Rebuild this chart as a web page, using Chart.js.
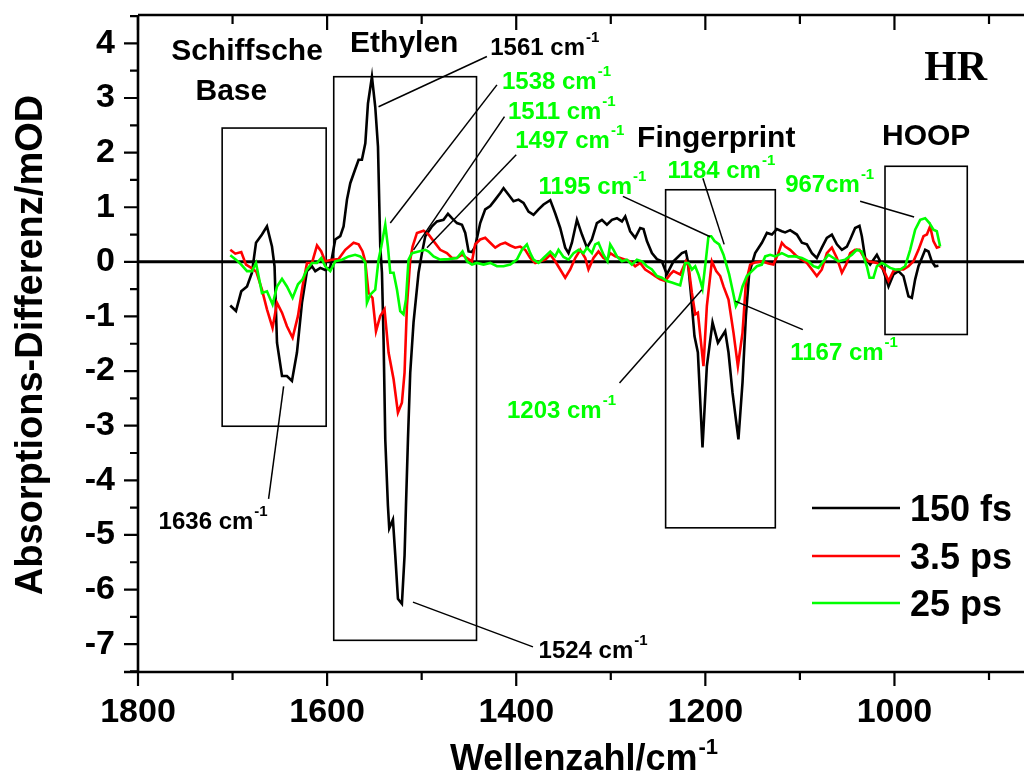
<!DOCTYPE html>
<html>
<head>
<meta charset="utf-8">
<script src="https://cdn.jsdelivr.net/npm/chart.js@4.4.0/dist/chart.umd.min.js"></script>
<style>
  html, body { margin: 0; padding: 0; background: #fff; overflow: hidden; }
  canvas { display: block; }
</style>
</head>
<body>
<canvas id="spektrum" width="1024" height="776"></canvas>
<script>
const wn150fs = [
  1702.4,1696.4,1690.8,1684.7,1679.5,1675.2,1668.9,1663.6,1658.3,1655.6,
  1653.0,1647.7,1642.5,1637.2,1631.9,1626.6,1621.3,1616.0,1612.5,1607.2,
  1602.0,1596.7,1591.4,1586.1,1582.6,1579.0,1575.5,1570.4,1566.7,1563.2,
  1559.6,1556.8,1552.6,1549.1,1546.2,1543.8,1542.0,1540.3,1538.5,1535.7,
  1534.3,1530.4,1527.9,1525.1,1520.9,1518.1,1516.6,1514.5,1512.1,1508.6,
  1503.3,1499.7,1496.2,1489.1,1483.8,1476.9,1472.2,1468.0,1462.7,1457.4,
  1453.9,1450.4,1446.8,1443.4,1438.1,1432.8,1427.5,1422.2,1416.9,1413.4,
  1408.1,1402.9,1397.6,1392.3,1387.0,1381.7,1376.4,1371.1,1364.0,1358.8,
  1353.5,1348.2,1344.7,1341.1,1335.8,1330.5,1325.2,1320.0,1314.7,1309.4,
  1304.1,1298.8,1293.5,1288.2,1284.7,1279.5,1274.2,1268.9,1265.4,1261.8,
  1256.5,1251.2,1246.0,1240.7,1233.7,1224.8,1220.6,1218.5,1215.0,1211.5,
  1207.9,1203.0,1198.4,1192.4,1186.7,1179.0,1175.5,1171.3,1165.0,1160.7,
  1157.1,1153.6,1147.3,1140.2,1134.9,1129.6,1124.4,1119.1,1115.6,1110.3,
  1103.2,1097.9,1092.6,1087.3,1082.1,1076.8,1071.5,1066.2,1060.9,1055.6,
  1050.3,1046.8,1041.6,1037.0,1034.5,1031.0,1025.7,1022.2,1018.6,1015.1,
  1009.8,1006.3,1001.1,995.8,990.5,985.2,981.6,978.1,974.6,971.0,
  967.5,964.0,960.5,957.0,953.5
];
const od150fs = [
  -0.80,-0.90,-0.54,-0.45,-0.20,0.35,0.50,0.65,0.28,-0.08,
  -1.48,-2.09,-2.09,-2.18,-1.66,-0.75,-0.17,-0.08,-0.17,-0.11,
  -0.15,-0.10,0.41,0.47,0.65,1.14,1.44,1.69,1.87,1.87,
  2.17,2.90,3.39,2.84,2.11,0.28,-0.20,-1.42,-3.25,-4.46,
  -4.88,-4.72,-5.38,-6.17,-6.26,-5.38,-4.46,-3.25,-2.03,-1.11,
  -0.20,0.16,0.47,0.65,0.74,0.77,0.88,0.80,0.71,0.68,
  0.53,0.19,0.18,0.28,0.71,0.96,1.02,1.14,1.26,1.35,
  1.23,1.11,1.14,1.08,0.92,0.86,0.96,1.05,1.13,0.89,
  0.62,0.26,0.16,0.35,0.77,0.50,0.26,0.41,0.71,0.77,
  0.68,0.77,0.80,0.74,0.83,0.56,0.44,0.62,0.60,0.38,
  0.16,0.05,0.01,-0.23,0.01,0.16,0.19,0.01,-0.63,-1.36,
  -1.66,-3.40,-1.91,-1.11,-1.48,-1.27,-1.66,-2.39,-3.25,-2.21,
  -0.99,-0.20,0.16,0.35,0.53,0.50,0.60,0.56,0.54,0.58,
  0.50,0.35,0.32,0.16,0.07,0.26,0.44,0.50,0.32,0.22,
  0.28,0.41,0.62,0.66,0.47,0.07,-0.05,0.04,0.13,0.01,
  -0.26,-0.45,-0.23,-0.17,-0.26,-0.63,-0.66,-0.32,-0.08,0.07,
  0.22,0.19,0.01,-0.08,-0.07
];

const wn35ps = [
  1702.4,1697.1,1690.8,1685.8,1680.2,1674.9,1668.9,1663.6,1657.7,1653.0,
  1647.7,1642.5,1636.5,1630.8,1626.0,1621.3,1616.0,1610.7,1606.2,1602.0,
  1594.9,1587.9,1580.8,1572.0,1566.7,1562.5,1559.7,1556.2,1552.0,1548.3,
  1543.8,1539.3,1535.0,1529.7,1525.1,1520.9,1518.1,1515.6,1512.1,1509.6,
  1505.0,1498.0,1492.7,1487.4,1480.4,1473.3,1468.0,1462.7,1457.4,1452.1,
  1446.8,1443.4,1438.1,1432.8,1427.5,1422.2,1416.9,1411.6,1406.3,1401.1,
  1395.8,1390.5,1385.2,1379.9,1374.6,1369.3,1364.0,1358.8,1353.5,1348.2,
  1342.9,1337.6,1332.3,1327.0,1323.6,1318.3,1313.0,1307.7,1304.1,1300.6,
  1295.3,1290.0,1284.7,1279.5,1274.2,1268.9,1263.6,1258.3,1253.0,1247.7,
  1242.5,1237.2,1233.7,1226.6,1220.6,1217.8,1214.2,1210.7,1207.9,1202.0,
  1198.4,1193.1,1188.5,1184.3,1180.8,1175.5,1170.2,1165.6,1160.7,1157.1,
  1152.6,1147.3,1140.2,1133.2,1128.0,1122.7,1119.1,1115.6,1110.3,1103.2,
  1097.9,1092.6,1087.3,1082.1,1076.8,1071.5,1066.2,1060.9,1055.6,1051.1,
  1046.8,1041.6,1037.0,1032.8,1027.5,1018.6,1011.6,1006.3,1001.1,995.8,
  990.5,985.2,979.9,974.6,969.3,965.7,962.3,958.8,955.2,951.7
];
const od35ps = [
  0.22,0.15,0.18,-0.05,-0.11,-0.18,-0.51,-0.87,-1.21,-0.75,
  -0.93,-1.18,-1.39,-0.99,-0.45,-0.02,-0.02,0.30,0.19,0.01,
  0.04,0.05,0.22,0.35,0.32,0.19,0.01,-0.57,-0.66,-1.27,
  -0.99,-0.87,-1.66,-2.15,-2.76,-2.58,-2.03,-0.81,0.04,0.28,
  0.53,0.57,0.50,0.38,0.22,0.16,0.07,0.07,0.13,0.07,
  0.01,0.32,0.41,0.44,0.35,0.26,0.32,0.35,0.30,0.26,
  0.28,0.22,0.07,-0.02,0.01,0.04,0.13,0.01,-0.14,-0.29,
  -0.14,0.07,0.22,0.07,-0.14,0.07,0.19,0.07,0.04,0.16,
  0.10,0.07,0.04,0.01,-0.08,-0.02,-0.14,-0.20,-0.26,-0.32,
  -0.35,-0.23,-0.17,-0.23,0.01,-0.08,-0.57,-0.96,-0.93,-1.91,
  -0.81,0.01,-0.17,-0.26,-0.45,-0.69,-1.30,-1.91,-1.30,-0.38,
  -0.05,-0.01,0.01,-0.03,-0.05,0.16,0.35,0.28,0.22,0.10,
  0.04,-0.02,-0.14,-0.26,-0.14,0.16,0.26,0.07,-0.20,-0.05,
  0.16,0.22,0.22,0.10,0.01,-0.02,-0.14,-0.35,-0.17,-0.14,
  -0.14,-0.08,0.01,0.22,0.47,0.50,0.65,0.38,0.26,0.28
];

const wn25ps = [
  1702.4,1696.4,1690.8,1684.7,1679.5,1675.2,1672.5,1668.9,1663.6,1657.7,
  1653.0,1647.7,1642.5,1636.5,1630.8,1626.0,1621.3,1616.0,1610.7,1606.2,
  1602.0,1596.7,1591.4,1584.3,1577.3,1570.4,1565.0,1561.5,1559.6,1557.9,
  1554.4,1549.1,1545.6,1542.7,1538.5,1535.7,1533.2,1529.7,1526.1,1522.7,
  1519.2,1516.6,1513.9,1510.3,1503.3,1496.2,1492.7,1487.4,1480.4,1471.6,
  1462.7,1456.8,1452.1,1446.8,1441.6,1434.6,1427.5,1420.4,1413.4,1406.3,
  1399.3,1394.0,1388.7,1385.2,1381.7,1376.4,1371.1,1364.0,1358.8,1355.3,
  1350.0,1344.7,1339.4,1334.1,1328.8,1325.2,1320.0,1316.5,1313.0,1307.7,
  1303.5,1300.6,1297.1,1293.5,1288.2,1283.0,1277.7,1272.4,1267.1,1261.8,
  1256.5,1251.2,1246.0,1240.7,1235.4,1230.1,1226.6,1221.3,1217.8,1214.2,
  1210.7,1207.3,1203.0,1199.4,1196.7,1193.8,1190.3,1185.4,1180.8,1174.8,
  1171.3,1167.7,1164.2,1160.7,1156.1,1150.8,1145.5,1140.2,1136.7,1131.4,
  1126.1,1119.1,1112.1,1105.0,1097.9,1090.9,1085.7,1080.4,1075.1,1069.8,
  1064.5,1059.2,1052.1,1045.0,1039.8,1034.5,1029.2,1026.4,1022.2,1018.6,
  1013.3,1009.8,1004.5,999.3,994.0,988.7,983.4,978.1,972.8,967.5,
  963.0,958.8,955.2,951.7
];
const od25ps = [
  0.12,0.04,-0.05,-0.17,-0.17,-0.02,-0.26,-0.57,-0.54,-0.78,
  -0.45,-0.31,-0.45,-0.66,-0.41,-0.32,-0.14,-0.02,-0.02,0.07,
  -0.08,-0.17,0.01,0.04,0.10,0.13,0.10,0.04,-0.02,-0.75,
  -0.60,-0.51,0.04,0.28,0.68,0.28,-0.20,-0.20,-0.51,-0.90,
  -0.96,-0.69,0.04,0.16,0.19,0.22,0.19,0.10,0.04,0.05,
  0.07,0.19,0.01,-0.05,-0.02,-0.05,-0.02,-0.08,-0.08,-0.05,
  0.04,0.22,0.32,0.16,0.04,-0.02,0.07,0.19,0.10,0.22,
  0.09,0.04,0.16,0.22,0.16,0.26,0.16,0.32,0.35,0.13,
  0.01,0.32,0.22,0.10,0.01,0.04,-0.05,0.04,0.01,-0.08,
  -0.14,-0.26,-0.29,-0.35,-0.38,-0.41,-0.43,-0.02,-0.02,-0.14,
  -0.08,-0.23,-0.49,0.04,0.47,0.47,0.38,0.32,0.13,-0.23,
  -0.51,-0.81,-0.69,-0.45,-0.26,-0.17,-0.08,-0.05,0.10,0.13,
  0.10,0.16,0.10,0.10,0.07,0.01,-0.08,-0.11,0.01,0.13,
  0.07,0.01,0.04,0.13,0.22,0.19,-0.08,-0.29,-0.29,-0.08,
  -0.02,-0.05,-0.11,-0.14,-0.14,-0.08,0.22,0.59,0.77,0.80,
  0.71,0.59,0.56,0.28
];

const seriesLabels = ['150 fs', '3.5 ps', '25 ps'];
const seriesColors = ['#000000', '#ff0000', '#00ff00'];

// Markierte Bereiche (Wellenzahl / mOD)
const regionBoxes = [
  { x0: 1711, x1: 1601, y0: 2.45, y1: -3.01 },
  { x0: 1593, x1: 1442, y0: 3.39, y1: -6.93 },
  { x0: 1242, x1: 1126, y0: 1.32, y1: -4.87 },
  { x0: 1010, x1: 923,  y0: 1.75, y1: -1.33 }
];
const regionTitles = [
  { text: 'Schiffsche', x: 1684.7, y: 3.69 },
  { text: 'Base',       x: 1701.3, y: 2.96 },
  { text: 'Ethylen',    x: 1518.4, y: 3.84 },
  { text: 'Fingerprint',x: 1188.5, y: 2.11 },
  { text: 'HOOP',       x: 966.5,  y: 2.14 }
];
// Bandenzuordnungen: Text + Hinweislinie
const bandLabels = [
  { text: '1561 cm', c: 0, x: 1427.5, y: 3.79,  l: [1431.0, 3.76, 1545.6, 2.84] },
  { text: '1538 cm', c: 2, x: 1415.1, y: 3.16,  l: [1420.4, 3.24, 1533.2, 0.71] },
  { text: '1511 cm', c: 2, x: 1408.8, y: 2.61,  l: [1412.4, 2.66, 1508.6, 0.22] },
  { text: '1497 cm', c: 2, x: 1401.1, y: 2.08,  l: [1400.0, 1.96, 1494.4, 0.26] },
  { text: '1195 cm', c: 2, x: 1376.4, y: 1.25,  l: [1287.2, 1.20, 1194.9, 0.46] },
  { text: '1184 cm', c: 2, x: 1240.0, y: 1.53,  l: [1202.6, 1.53, 1180.1, 0.32] },
  { text: '967cm',   c: 2, x: 1115.6, y: 1.27,  l: [1036.3, 1.11, 979.2, 0.82] },
  { text: '1167 cm', c: 2, x: 1110.3, y: -1.80, l: [1096.9, -1.24, 1168.4, -0.72] },
  { text: '1203 cm', c: 2, x: 1409.8, y: -2.85, l: [1290.8, -2.22, 1203.7, -0.51] },
  { text: '1636 cm', c: 0, x: 1778.2, y: -4.89, l: [1661.9, -4.34, 1646.0, -2.28] },
  { text: '1524 cm', c: 0, x: 1376.4, y: -7.25, l: [1382.3, -7.05, 1509.2, -6.23] }
];

const FONT = 'Arial, "Liberation Sans", Helvetica, sans-serif';

function punkte(xs, ys) {
  return xs.map((v, i) => ({ x: v, y: ys[i] }));
}

function hochText(ctx, base, sup, x, y, size, supSize, raise, color) {
  ctx.fillStyle = color;
  ctx.textAlign = 'left';
  ctx.textBaseline = 'alphabetic';
  ctx.font = 'bold ' + size + 'px ' + FONT;
  ctx.fillText(base, x, y);
  const w = ctx.measureText(base).width;
  ctx.font = 'bold ' + supSize + 'px ' + FONT;
  ctx.fillText(sup, x + w + 1, y - raise);
}

const beschriftung = {
  id: 'beschriftung',
  beforeDatasetsDraw(chart) {
    const { ctx, chartArea: a, scales: { x, y } } = chart;
    ctx.save();
    ctx.strokeStyle = '#000';
    ctx.lineWidth = 1.6;
    regionBoxes.forEach(b => {
      const px0 = x.getPixelForValue(b.x0), px1 = x.getPixelForValue(b.x1);
      const py0 = y.getPixelForValue(b.y0), py1 = y.getPixelForValue(b.y1);
      ctx.strokeRect(px0, py0, px1 - px0, py1 - py0);
    });
    const y0 = y.getPixelForValue(0);
    ctx.lineWidth = 3;
    ctx.beginPath();
    ctx.moveTo(a.left, y0);
    ctx.lineTo(a.right, y0);
    ctx.stroke();
    ctx.restore();
  },
  afterDraw(chart) {
    const { ctx, chartArea: a, scales: { x, y } } = chart;
    ctx.save();
    ctx.strokeStyle = '#000';
    ctx.lineCap = 'butt';

    // Achsenlinien
    ctx.lineWidth = 2.6;
    ctx.beginPath();
    ctx.moveTo(a.left, a.top); ctx.lineTo(a.right, a.top);
    ctx.moveTo(a.left, a.top); ctx.lineTo(a.left, a.bottom);
    ctx.moveTo(a.left - 14, a.bottom); ctx.lineTo(a.right, a.bottom);
    ctx.stroke();

    // Teilstriche
    ctx.lineWidth = 2.2;
    ctx.beginPath();
    for (let v = 900; v <= 1800; v += 100) {
      const px = x.getPixelForValue(v);
      const len = v % 200 === 0 ? 14 : 8;
      ctx.moveTo(px, a.bottom); ctx.lineTo(px, a.bottom + len);
      ctx.moveTo(px, a.top); ctx.lineTo(px, a.top + (v % 200 === 0 ? 15 : 9));
    }
    for (let v = -7.5; v <= 4.5; v += 0.5) {
      const py = y.getPixelForValue(v);
      const len = Number.isInteger(v) ? 14 : 8;
      ctx.moveTo(a.left - len, py); ctx.lineTo(a.left, py);
    }
    ctx.stroke();

    // Hinweislinien + Bandenbeschriftung
    ctx.lineWidth = 1.5;
    bandLabels.forEach(b => {
      ctx.strokeStyle = '#000';
      ctx.beginPath();
      ctx.moveTo(x.getPixelForValue(b.l[0]), y.getPixelForValue(b.l[1]));
      ctx.lineTo(x.getPixelForValue(b.l[2]), y.getPixelForValue(b.l[3]));
      ctx.stroke();
      hochText(ctx, b.text, '-1', x.getPixelForValue(b.x), y.getPixelForValue(b.y),
        24, 15, 13, seriesColors[b.c]);
    });

    // Bereichstitel
    ctx.fillStyle = '#000';
    ctx.textAlign = 'center';
    ctx.textBaseline = 'alphabetic';
    ctx.font = 'bold 30px ' + FONT;
    regionTitles.forEach(t => {
      ctx.fillText(t.text, x.getPixelForValue(t.x), y.getPixelForValue(t.y));
    });
    ctx.font = 'bold 42px "Liberation Serif", "Times New Roman", serif';
    ctx.fillText('HR', x.getPixelForValue(935.3), y.getPixelForValue(3.33));

    // Legende
    const legX0 = a.right - 212, legX1 = a.right - 124, legTx = a.right - 114;
    const legY = [508, 556, 603];
    chart.data.datasets.forEach((ds, i) => {
      ctx.strokeStyle = ds.borderColor;
      ctx.lineWidth = 2.6;
      ctx.beginPath();
      ctx.moveTo(legX0, legY[i]); ctx.lineTo(legX1, legY[i]);
      ctx.stroke();
      ctx.fillStyle = '#000';
      ctx.textAlign = 'left';
      ctx.font = 'bold 36px ' + FONT;
      ctx.fillText(ds.label, legTx, legY[i] + 13);
    });

    // Achsentitel
    hochText(ctx, 'Wellenzahl/cm', '-1', 450, 770, 36, 22, 16, '#000');
    ctx.save();
    ctx.translate(42, 345);
    ctx.rotate(-Math.PI / 2);
    ctx.fillStyle = '#000';
    ctx.textAlign = 'center';
    ctx.textBaseline = 'alphabetic';
    ctx.font = 'bold 38px ' + FONT;
    ctx.fillText('Absorptions-Differenz/mOD', 0, 0);
    ctx.restore();

    ctx.restore();
  }
};

const tickFont = { family: FONT, size: 34, weight: 'bold' };

new Chart(document.getElementById('spektrum'), {
  type: 'line',
  data: {
    datasets: [
      { label: seriesLabels[0], data: punkte(wn150fs, od150fs), borderColor: seriesColors[0], order: 3 },
      { label: seriesLabels[1], data: punkte(wn35ps, od35ps), borderColor: seriesColors[1], order: 2 },
      { label: seriesLabels[2], data: punkte(wn25ps, od25ps), borderColor: seriesColors[2], order: 1 }
    ]
  },
  options: {
    responsive: false,
    animation: false,
    layout: { padding: { left: 0, top: 15, right: 0, bottom: 0 } },
    elements: {
      point: { radius: 0 },
      line: { borderWidth: 2.6, tension: 0, fill: false }
    },
    plugins: {
      legend: { display: false },
      tooltip: { enabled: false }
    },
    scales: {
      x: {
        type: 'linear',
        reverse: true,
        min: 863,
        max: 1800,
        grid: { display: false, drawTicks: false },
        border: { display: false },
        ticks: {
          stepSize: 200, includeBounds: false, autoSkip: false, maxRotation: 0,
          padding: 20, color: '#000', font: tickFont,
          callback: v => String(v)
        },
        afterFit(s) { s.height = 104; s.paddingLeft = 0; s.paddingRight = 0; }
      },
      y: {
        min: -7.51,
        max: 4.52,
        grid: { display: false, drawTicks: false },
        border: { display: false },
        ticks: {
          stepSize: 1, includeBounds: false, autoSkip: false,
          padding: 23, color: '#000', font: tickFont,
          callback: v => String(v)
        },
        afterFit(s) { s.width = 138; s.paddingTop = 0; s.paddingBottom = 0; }
      }
    }
  },
  plugins: [beschriftung]
});
</script>
</body>
</html>
